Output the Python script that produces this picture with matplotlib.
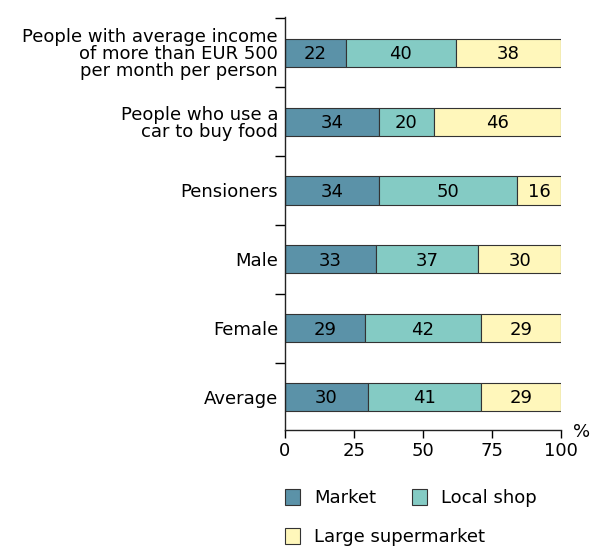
import matplotlib.pyplot as plt
from matplotlib.patches import Patch

categories = ["Average", "Female", "Male", "Pensioners",
              "People who use a\ncar to buy food",
              "People with average income\nof more than EUR 500\nper month per person"]
market = [30, 29, 33, 34, 34, 22]
local_shop = [41, 42, 37, 50, 20, 40]
supermarket = [29, 29, 30, 16, 46, 38]
series_names = ["Market", "Local shop", "Large supermarket"]
colors = ["#5b92a8", "#84cbc4", "#fff7bb"]

plt.rcParams["font.family"] = "DejaVu Sans"
plt.rcParams["font.size"] = 13

fig = plt.figure(figsize=(5.93, 5.47), dpi=100)
ax = fig.add_axes([285 / 593, 1 - 430 / 547, 276 / 593, 413 / 547])

y = list(range(len(categories)))
left = [0] * len(categories)
for vals, name, col in zip([market, local_shop, supermarket], series_names, colors):
    bars = ax.barh(y, vals, left=left, height=0.41, color=col,
                   edgecolor="#333333", linewidth=0.8, label=name)
    for b, v in zip(bars, vals):
        ax.text(b.get_x() + b.get_width() / 2, b.get_y() + b.get_height() / 2 - 0.02,
                str(v), ha="center", va="center", fontsize=13)
    left = [l + v for l, v in zip(left, vals)]

ax.set_xlim(0, 100)
ax.set_ylim(-0.48, 5.52)
ax.set_xticks([0, 25, 50, 75, 100])
ax.set_yticks([k + 0.5 for k in range(len(categories))])
ax.set_yticklabels([])
ax.set_yticks(y, minor=True)
ax.set_yticklabels(categories, minor=True, ha="right", linespacing=0.92)
ax.tick_params(axis="y", which="minor", length=0, pad=5)
ax.tick_params(axis="y", which="major", length=7, width=1, direction="out")
ax.tick_params(axis="x", length=6, width=1, direction="out", pad=3)
for s in ["top", "right"]:
    ax.spines[s].set_visible(False)
for s in ["left", "bottom"]:
    ax.spines[s].set_linewidth(1)
    ax.spines[s].set_color("#222222")

fig.text(573 / 593, 1 - 432 / 547, "%", ha="left", va="center", fontsize=13)

handles = [Patch(facecolor=c, edgecolor="#333333", linewidth=0.8, label=n)
           for c, n in zip(colors, series_names)]
leg_kw = dict(frameon=False, loc="center left", borderpad=0, borderaxespad=0,
              handlelength=0.85, handleheight=0.95, handletextpad=0.75, fontsize=13)
fig.legend(handles[:2], series_names[:2], ncol=2, columnspacing=2.0,
           bbox_to_anchor=(285 / 593, 1 - 498 / 547), **leg_kw)
fig.legend(handles[2:], series_names[2:],
           bbox_to_anchor=(285 / 593, 1 - 537 / 547), **leg_kw)

fig.savefig("out.png", dpi=100)
